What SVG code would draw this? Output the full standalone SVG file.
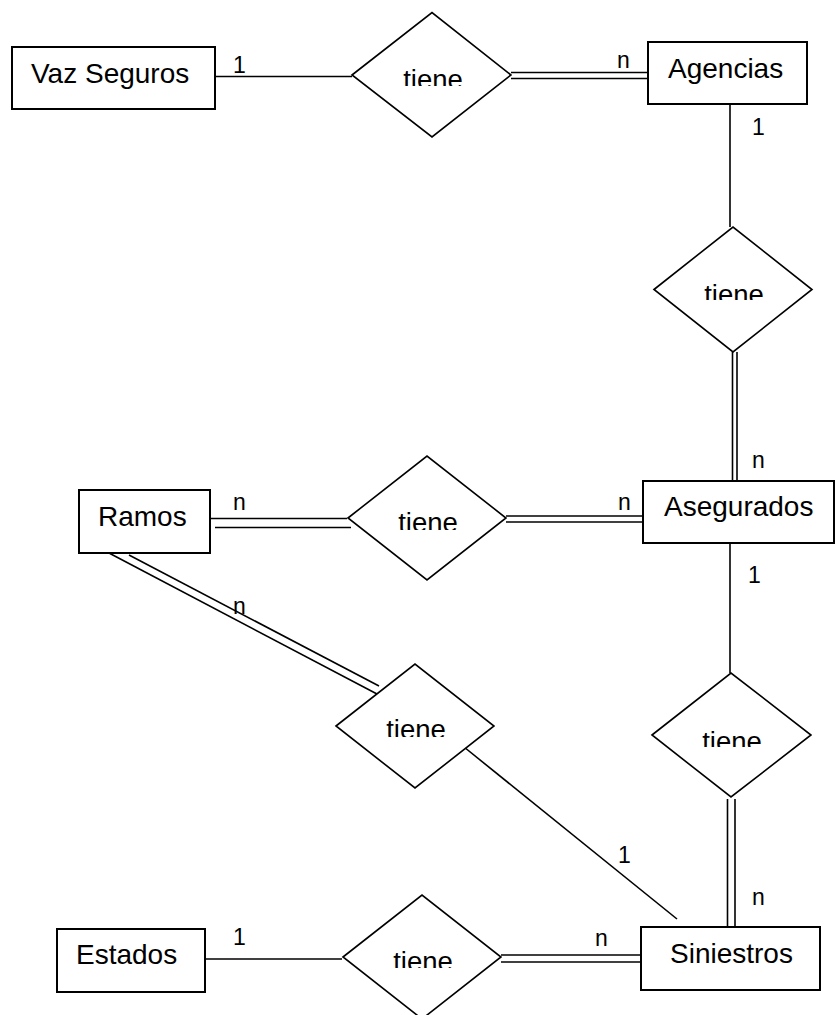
<svg xmlns="http://www.w3.org/2000/svg" width="835" height="1015" viewBox="0 0 835 1015">
<style>
.ent{fill:#fff;stroke:#000;stroke-width:2}
.rel{fill:#fff;stroke:#000;stroke-width:1.6}
.ln{stroke:#000;stroke-width:1.6;fill:none}
.name{font-family:"Liberation Sans",Arial,sans-serif;font-size:28px;fill:#000}
.rt{font-family:"Liberation Sans",Arial,sans-serif;font-size:27.5px;fill:#000;text-anchor:middle}
.card{font-family:"Liberation Sans",Arial,sans-serif;font-size:23px;fill:#000}
</style>
<defs>
<clipPath id="c1"><rect x="352" y="0" width="160" height="86"/></clipPath>
<clipPath id="c2"><rect x="654" y="227" width="160" height="73"/></clipPath>
<clipPath id="c3"><rect x="348" y="456" width="160" height="74"/></clipPath>
<clipPath id="c4"><rect x="652" y="673" width="160" height="74"/></clipPath>
<clipPath id="c5"><rect x="336" y="664" width="160" height="73"/></clipPath>
<clipPath id="c6"><rect x="343" y="895" width="160" height="73"/></clipPath>
</defs>
<rect width="835" height="1015" fill="#fff"/>
<g id="connectors">
<line class="ln" x1="215" y1="76.5" x2="352" y2="76.5"/>
<line class="ln" x1="511" y1="72.5" x2="648" y2="72.5"/>
<line class="ln" x1="511" y1="78.5" x2="648" y2="78.5"/>
<line class="ln" x1="730" y1="104" x2="730" y2="227"/>
<line class="ln" x1="732.5" y1="352" x2="732.5" y2="481"/>
<line class="ln" x1="737" y1="352" x2="737" y2="481"/>
<line class="ln" x1="210" y1="518.5" x2="347" y2="518.5"/>
<line class="ln" x1="215" y1="527.5" x2="351" y2="527.5"/>
<line class="ln" x1="506" y1="516" x2="643" y2="516"/>
<line class="ln" x1="506" y1="522" x2="643" y2="522"/>
<line class="ln" x1="730" y1="543" x2="730" y2="673"/>
<line class="ln" x1="727.5" y1="799" x2="727.5" y2="927"/>
<line class="ln" x1="735" y1="799" x2="735" y2="927"/>
<line class="ln" x1="109" y1="553" x2="377" y2="694"/>
<line class="ln" x1="129" y1="555" x2="379" y2="686"/>
<line class="ln" x1="464" y1="747" x2="677" y2="919"/>
<line class="ln" x1="205" y1="959" x2="342" y2="959"/>
<line class="ln" x1="501" y1="955" x2="641" y2="955"/>
<line class="ln" x1="501" y1="962" x2="641" y2="962"/>
</g>
<g id="vaz-seguros"><rect class="ent" x="12" y="47" width="203" height="62"/><text class="name" x="31" y="83">Vaz Seguros</text></g>
<g id="agencias"><rect class="ent" x="648" y="42" width="159" height="62"/><text class="name" x="668" y="78">Agencias</text></g>
<g id="asegurados"><rect class="ent" x="643" y="481" width="191" height="62"/><text class="name" x="664" y="515.5">Asegurados</text></g>
<g id="ramos"><rect class="ent" x="79" y="490" width="131" height="63"/><text class="name" x="98" y="526">Ramos</text></g>
<g id="siniestros"><rect class="ent" x="641" y="927" width="179" height="63"/><text class="name" x="670" y="963">Siniestros</text></g>
<g id="estados"><rect class="ent" x="57" y="929" width="148" height="63"/><text class="name" x="76" y="964">Estados</text></g>
<g id="rel-vaz-agencias"><polygon class="rel" points="352,75 432,12.5 511,75 432,137"/><text class="rt" x="433" y="89" clip-path="url(#c1)">tiene</text></g>
<g id="rel-agencias-asegurados"><polygon class="rel" points="654,289.5 733,227 812,289.5 733,352"/><text class="rt" x="734" y="304" clip-path="url(#c2)">tiene</text></g>
<g id="rel-ramos-asegurados"><polygon class="rel" points="348,518 427,456 506,518 427,580"/><text class="rt" x="428" y="532" clip-path="url(#c3)">tiene</text></g>
<g id="rel-asegurados-siniestros"><polygon class="rel" points="652,735 731,673 811,735 731,797"/><text class="rt" x="732" y="751" clip-path="url(#c4)">tiene</text></g>
<g id="rel-ramos-siniestros"><polygon class="rel" points="336,726 415,664 494,726 415,788"/><text class="rt" x="416" y="739" clip-path="url(#c5)">tiene</text></g>
<g id="rel-estados-siniestros"><polygon class="rel" points="343,957 422,895 501,957 422,1019"/><text class="rt" x="423" y="971" clip-path="url(#c6)">tiene</text></g>
<g id="cardinalities">
<text class="card" x="233" y="73">1</text>
<text class="card" x="617" y="68">n</text>
<text class="card" x="752" y="135">1</text>
<text class="card" x="752" y="468">n</text>
<text class="card" x="233" y="510">n</text>
<text class="card" x="618" y="510">n</text>
<text class="card" x="748" y="583">1</text>
<text class="card" x="233" y="614">n</text>
<text class="card" x="618" y="863">1</text>
<text class="card" x="752" y="905">n</text>
<text class="card" x="233" y="945">1</text>
<text class="card" x="595" y="946">n</text>
</g>
</svg>
